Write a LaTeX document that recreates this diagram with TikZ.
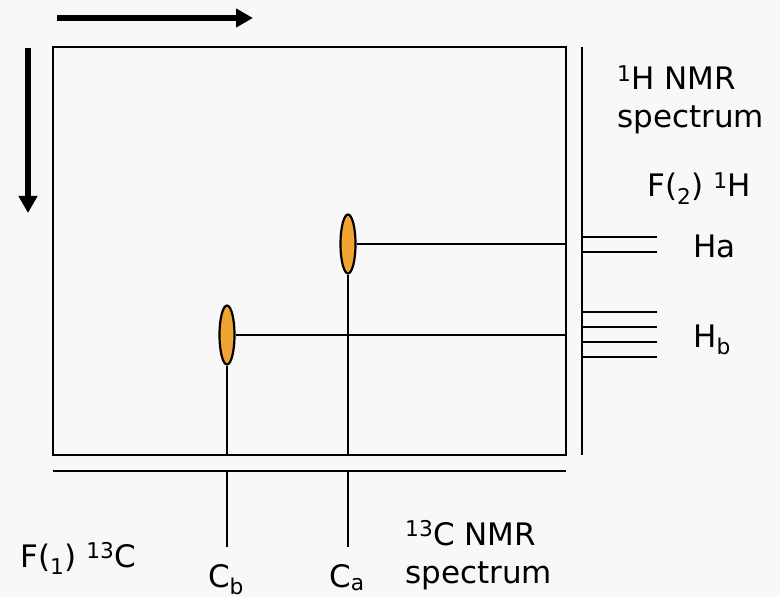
\documentclass[tikz,border=0pt]{standalone}
\usepackage{fontspec}
\setmainfont{DejaVu Sans}
\usetikzlibrary{arrows.meta,shapes.geometric}
\definecolor{bgc}{HTML}{F8F8F8}
\definecolor{peakc}{HTML}{F0A431}
\tikzset{
  ln/.style={line width=2.2bp, draw=black},
  bigarrow/.style={line width=6bp, -{Triangle[length=17bp,width=18bp]}},
  peak/.style={ellipse, draw=black, line width=2.2bp, fill=peakc, inner sep=0pt, minimum width=15bp, minimum height=59bp},
  lbl/.style={anchor=base west, inner sep=0pt, font=\fontsize{31bp}{37bp}\selectfont},
  lblc/.style={anchor=base, inner sep=0pt, font=\fontsize{31bp}{37bp}\selectfont}
}
\begin{document}
\begin{tikzpicture}[x=1bp,y=-1bp]
\fill[bgc] (0,0) rectangle (780,597);
\useasboundingbox (0,0) rectangle (780,597);

% arrows
\coordinate (ha1) at (57,18);
\coordinate (ha2) at (253,18);
\coordinate (va1) at (28,48);
\coordinate (va2) at (28,213);
\draw[bigarrow] (ha1) -- (ha2);
\draw[bigarrow] (va1) -- (va2);

% box and spectrum axes
\coordinate (boxTL) at (53,47);
\coordinate (boxBR) at (566,455);
\draw[ln] (boxTL) rectangle (boxBR);
\coordinate (hAxT) at (582,47);
\coordinate (hAxB) at (582,455);
\draw[ln] (hAxT) -- (hAxB);
\coordinate (cAxL) at (53,471);
\coordinate (cAxR) at (566,471);
\draw[ln] (cAxL) -- (cAxR);

% cross peaks
\node[peak] (pa) at (348,244) {};
\node[peak] (pb) at (227,335) {};
\coordinate (paR) at (566,244);
\coordinate (paD) at (348,455);
\coordinate (pbR) at (566,335);
\coordinate (pbD) at (227,455);
\draw[ln] (pa.east) -- (paR);
\draw[ln] (pa.south) -- (paD);
\draw[ln] (pb.east) -- (pbR);
\draw[ln] (pb.south) -- (pbD);

% 13C spectrum lines
\coordinate (caT) at (348,471);
\coordinate (caB) at (348,547);
\coordinate (cbT) at (227,471);
\coordinate (cbB) at (227,547);
\draw[ln] (caT) -- (caB);
\draw[ln] (cbT) -- (cbB);

% 1H spectrum lines
\foreach \y [count=\i] in {237,252,312,327,342,357}{
  \coordinate (hl\i) at (582,\y);
  \coordinate (hr\i) at (657,\y);
  \draw[ln] (hl\i) -- (hr\i);
}

% labels
\node[lbl] (t1) at (617,90) {\textsuperscript{1}H NMR};
\node[lbl] (t2) at (617,128) {spectrum};
\node[lbl] (t3) at (647,197) {F(\textsubscript{2}) \textsuperscript{1}H};
\node[lbl] (t4) at (693,257) {Ha};
\node[lbl] (t5) at (693,347) {H\textsubscript{b}};
\node[lbl] (t6) at (20,567) {F(\textsubscript{1}) \textsuperscript{13}C};
\node[lblc] (t7) at (226,587) {C\textsubscript{b}};
\node[lblc] (t8) at (347,587) {C\textsubscript{a}};
\node[lbl] (t9) at (405,545) {\textsuperscript{13}C NMR};
\node[lbl] (t10) at (405,583) {spectrum};
\end{tikzpicture}
\end{document}
